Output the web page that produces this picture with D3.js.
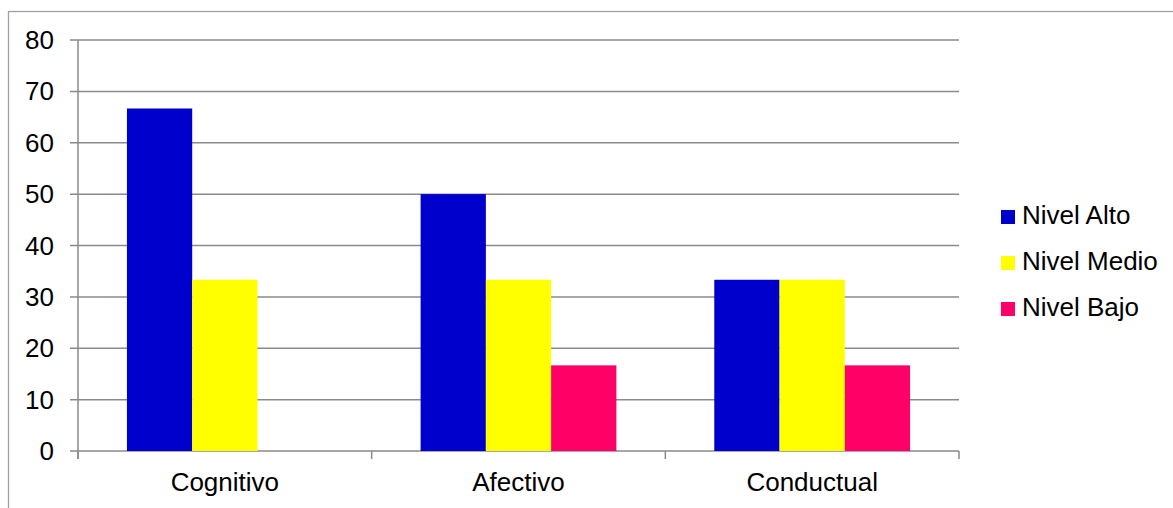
<!DOCTYPE html>
<html>
<head>
<meta charset="utf-8">
<script src="https://cdn.jsdelivr.net/npm/d3@7"></script>
<style>
    body { margin: 0; background: #fff; }
    text { font-family: "Liberation Sans", Arial, sans-serif; fill: #000; }
</style>
</head>
<body>
<svg id="chart" width="1173" height="508"></svg>
<script>
const categories = ['Cognitivo', 'Afectivo', 'Conductual'];
const seriesNames = ['Nivel Alto', 'Nivel Medio', 'Nivel Bajo'];
const seriesColors = ['#0000cc', '#ffff00', '#ff0066'];
const nivelAlto = [66.67, 50, 33.33];
const nivelMedio = [33.33, 33.33, 33.33];
const nivelBajo = [0, 16.67, 16.67];
const yTicks = [0, 10, 20, 30, 40, 50, 60, 70, 80];

const series = [nivelAlto, nivelMedio, nivelBajo];

const svg = d3.select('#chart');
const plot = { left: 78, right: 959, top: 40, bottom: 451 };
const gridColor = '#8a8a8a';

// outer chart frame (cut off on the right and bottom)
svg.append('rect')
    .attr('x', 8.5).attr('y', 11.5)
    .attr('width', 1200).attr('height', 600)
    .attr('fill', 'none')
    .attr('stroke', '#a0a0a0')
    .attr('stroke-width', 1.3);

const x0 = d3.scaleBand()
    .domain(categories)
    .range([plot.left, plot.right])
    .paddingInner(0)
    .paddingOuter(0);

// bars take 3 of 4.5 units in each group (gap width 150%)
const groupPad = 0.75 / 4.5;
const x1 = d3.scaleBand()
    .domain(d3.range(series.length))
    .range([x0.bandwidth() * groupPad, x0.bandwidth() * (1 - groupPad)]);

const y = d3.scaleLinear()
    .domain([0, 80])
    .range([plot.bottom, plot.top]);

// horizontal gridlines with small outside ticks
svg.append('g')
    .selectAll('line')
    .data(yTicks)
    .enter()
    .append('line')
    .attr('x1', plot.left - 8)
    .attr('x2', plot.right)
    .attr('y1', d => y(d))
    .attr('y2', d => y(d))
    .attr('stroke', gridColor)
    .attr('stroke-width', 1.5);

svg.append('g')
    .selectAll('text')
    .data(yTicks)
    .enter()
    .append('text')
    .attr('x', 54)
    .attr('y', d => y(d))
    .attr('dy', '0.35em')
    .attr('text-anchor', 'end')
    .style('font-size', '26px')
    .text(d => d);

// bars
const groups = svg.append('g')
    .selectAll('g')
    .data(categories)
    .enter()
    .append('g')
    .attr('transform', d => `translate(${x0(d)},0)`);

groups.selectAll('rect')
    .data((d, i) => series.map((s, j) => ({ j, v: s[i] })))
    .enter()
    .append('rect')
    .attr('x', d => x1(d.j))
    .attr('width', x1.bandwidth())
    .attr('y', d => y(d.v))
    .attr('height', d => y(0) - y(d.v))
    .attr('fill', d => seriesColors[d.j]);

// axes lines
svg.append('line')
    .attr('x1', plot.left).attr('x2', plot.left)
    .attr('y1', plot.top).attr('y2', plot.bottom + 8)
    .attr('stroke', gridColor).attr('stroke-width', 1.5);

const catTicks = [...categories.map(c => x0(c)), plot.right];
svg.append('g')
    .selectAll('line')
    .data(catTicks)
    .enter()
    .append('line')
    .attr('x1', d => d).attr('x2', d => d)
    .attr('y1', plot.bottom).attr('y2', plot.bottom + 8)
    .attr('stroke', gridColor).attr('stroke-width', 1.5);

svg.append('g')
    .selectAll('text')
    .data(categories)
    .enter()
    .append('text')
    .attr('x', d => x0(d) + x0.bandwidth() / 2)
    .attr('y', 491)
    .attr('text-anchor', 'middle')
    .style('font-size', '26px')
    .text(d => d);

// legend
const legend = svg.append('g')
    .selectAll('g')
    .data(seriesNames)
    .enter()
    .append('g')
    .attr('transform', (d, i) => `translate(1001,${210 + i * 46})`);

legend.append('rect')
    .attr('width', 14).attr('height', 14)
    .attr('fill', (d, i) => seriesColors[i]);

legend.append('text')
    .attr('x', 21)
    .attr('y', 14)
    .style('font-size', '26px')
    .text(d => d);
</script>
</body>
</html>
